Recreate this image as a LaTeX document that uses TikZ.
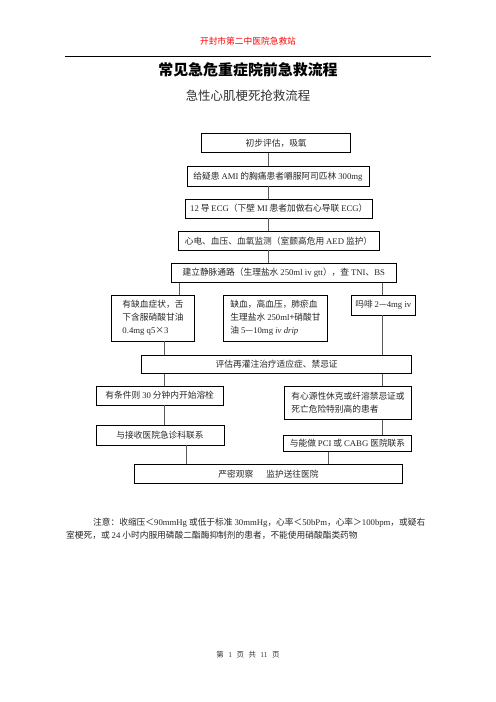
\documentclass[tikz,border=0pt]{standalone}
\usepackage{fontspec}
\setmainfont{Liberation Serif}
\newfontfamily\cjk{Noto Sans CJK SC}
\usetikzlibrary{positioning}
\newlength\pxu
\setlength\pxu{0.04234cm}
\newcommand\en[1]{{\rmfamily #1}}

\begin{document}
\begin{tikzpicture}[
  x=0.04234cm, y=-0.04234cm,
  font=\cjk\fontsize{10.5}{15.5}\selectfont,
  box/.style={draw, line width=0.8pt, inner sep=0pt, align=center, text=black!85},
  tallbox/.style={box, align=left},
  link/.style={draw=black!65, line width=0.7pt}
]
\useasboundingbox (0,0) rectangle (496,702);

% page head
\node[text=red, font=\cjk\fontsize{10.5}{12}\selectfont] (station) at (248,41.3) {开封市第二中医院急救站};
\draw[line width=0.8pt] (65,56) -- (431,56);
\node[font=\cjk\bfseries\fontsize{18}{20}\selectfont] (title) at (248,70) {常见急危重症院前急救流程};
\node[text=black!80, font=\cjk\fontsize{15}{18}\selectfont] (subtitle) at (248,95.7) {急性心肌梗死抢救流程};

% main chain
\node[box, minimum width=149\pxu, minimum height=19.4\pxu] (first) at (276.2,143) {初步评估，吸氧};
\node[box, minimum width=182\pxu, minimum height=19.3\pxu] (aspirin) at (278,176.3) {给疑患 \en{AMI} 的胸痛患者嚼服阿司匹林 \en{300mg}};
\node[box, minimum width=187.7\pxu, minimum height=19\pxu] (ecg) at (278.8,208.5) {\en{12} 导 \en{ECG}（下壁 \en{MI} 患者加做右心导联 \en{ECG}）};
\node[box, minimum width=201\pxu, minimum height=18.3\pxu] (monitor) at (278.5,240.8) {心电、血压、血氧监测（室颤高危用 \en{AED} 监护）};
\node[box, minimum width=225.7\pxu, minimum height=19\pxu] (access) at (283.8,272.8) {建立静脉通路（生理盐水 \en{250ml iv gtt}），查 \en{TNI}、\en{BS}};

% drugs
\node[tallbox, minimum width=82.6\pxu, minimum height=46\pxu] (nitro) at (153,318) {有缺血症状，舌\\下含服硝酸甘油\\\en{0.4mg q5}×\en{3}};
\node[tallbox, minimum width=104.4\pxu, minimum height=46\pxu] (hyper) at (275.5,318) {缺血，高血压，肺瘀血\\生理盐水 \en{250ml}+硝酸甘\\油 \en{5}—\en{10mg \textit{iv drip}}};
\node[box, minimum width=63.3\pxu, minimum height=20\pxu] (morphine) at (383.3,305) {吗啡 \en{2}—\en{4mg iv}};

\node[box, minimum width=270\pxu, minimum height=18.3\pxu] (assess) at (276.7,364.2) {评估再灌注治疗适应症、禁忌证};

% two branches
\node[box, minimum width=127.3\pxu, minimum height=19\pxu] (lysis) at (159.7,395.5) {有条件则 \en{30} 分钟内开始溶栓};
\node[tallbox, minimum width=127.4\pxu, minimum height=33.3\pxu] (shock) at (348,402.7) {有心源性休克或纤溶禁忌证或\\死亡危险特别高的患者};
\node[box, minimum width=128\pxu, minimum height=20\pxu] (contact) at (160,435) {与接收医院急诊科联系};
\node[box, minimum width=128.4\pxu, minimum height=16.7\pxu] (pci) at (347.5,443.3) {与能做 \en{PCI} 或 \en{CABG} 医院联系};
\node[box, minimum width=268.4\pxu, minimum height=19\pxu] (transfer) at (268.5,473.8) {严密观察\hspace{1.5em}监护送往医院};

% columns of the connectors
\coordinate (spine) at (268,0);
\coordinate (lsplit) at (179,0);
\coordinate (lcol) at (164,0);
\coordinate (rcol) at (382,0);
\coordinate (ljoin) at (186.7,0);
\coordinate (rjoin) at (328.3,0);

\draw[link] (first.south -| spine) -- (aspirin.north -| spine);
\draw[link] (aspirin.south -| spine) -- (ecg.north -| spine);
\draw[link] (ecg.south -| spine) -- (monitor.north -| spine);
\draw[link] (monitor.south -| spine) -- (access.north -| spine);

\draw[link] (access.south -| lsplit) -- (nitro.north -| lsplit);
\draw[link] (access.south -| rcol) -- (morphine.north -| rcol);
\draw[link] (morphine.south -| rcol) -- (assess.north -| rcol);
\draw[link] (nitro.south -| lcol) -- (assess.north -| lcol);

\draw[link] (assess.south -| lcol) -- (lysis.north -| lcol);
\draw[link] (assess.south -| rcol) -- (shock.north -| rcol);
\draw[link] (lysis.south -| lcol) -- (contact.north -| lcol);
\draw[link] (shock.south -| rcol) -- (pci.north -| rcol);
\draw[link] (contact.south -| ljoin) -- (transfer.north -| ljoin);
\draw[link] (pci.south -| rjoin) -- (transfer.north -| rjoin);

% note and page number
\node[anchor=west, inner sep=0pt, align=left, text=black!85, font=\cjk\fontsize{10.5}{14.8}\selectfont] (note) at (66,528.9) {\hspace*{27\pxu}注意：收缩压＜\en{90mmHg} 或低于标准 \en{30mmHg}，心率＜\en{50bPm}，心率＞\en{100bpm}，或疑右\\室梗死，或 \en{24} 小时内服用磷酸二酯酶抑制剂的患者，不能使用硝酸酯类药物};
\node[text=black!80, font=\cjk\fontsize{9}{10}\selectfont] (pageno) at (248,655) {第\hspace{0.6em}\en{1}\hspace{0.6em}页\hspace{0.6em}共\hspace{0.6em}\en{11}\hspace{0.6em}页};
\end{tikzpicture}
\end{document}
